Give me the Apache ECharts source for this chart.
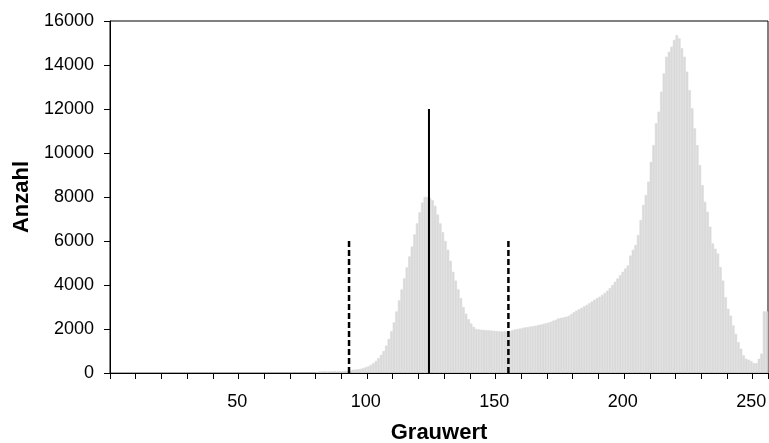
<!DOCTYPE html>
<html>
<head>
<meta charset="utf-8">
<script src="https://cdn.jsdelivr.net/npm/echarts@6/dist/echarts.min.js"></script>
<style>
	html, body { margin: 0; padding: 0; background: #fff; }
	#GrauChart { width: 769px; height: 443px; }
</style>
</head>
<body>
<div id="GrauChart"></div>
<script>
	/*Grauwerte 1..256 (Kategorien)*/
	let grauwerte = Array.from({ length: 256 }, (v, i) => i + 1);
	/*Anzahl je Grauwert*/
	let anzahl = [
		0, 0, 0, 0, 0, 0, 0, 0, 0, 0,
		0, 0, 0, 0, 0, 0, 0, 0, 0, 0,
		0, 0, 0, 0, 0, 0, 0, 0, 0, 0,
		0, 0, 0, 0, 0, 0, 0, 0, 0, 0,
		0, 0, 0, 0, 0, 0, 0, 0, 0, 0,
		0, 0, 0, 0, 0, 0, 0, 0, 0, 0,
		0, 0, 0, 0, 0, 0, 0, 0, 0, 0,
		0, 0, 0, 0, 0, 0, 0, 0, 0, 0,
		40, 70, 70, 80, 70, 80, 80, 90, 80, 90,
		90, 100, 100, 110, 150, 160, 170, 190, 220, 260,
		300, 370, 450, 550, 680, 830, 1000, 1250, 1550, 1900,
		2300, 2800, 3300, 3800, 4300, 4800, 5300, 5750, 6300, 6800,
		7300, 7750, 8000, 8000, 7950, 7850, 7600, 7200, 6800, 6400,
		6000, 5600, 5100, 4600, 4200, 3800, 3400, 3000, 2700, 2450,
		2250, 2100, 2000, 1980, 1970, 1960, 1950, 1940, 1930, 1920,
		1910, 1900, 1890, 1890, 1900, 1900, 1940, 1980, 2000, 2020,
		2050, 2070, 2090, 2110, 2130, 2150, 2180, 2200, 2230, 2260,
		2290, 2330, 2380, 2420, 2480, 2510, 2530, 2560, 2600, 2680,
		2760, 2840, 2900, 2960, 3030, 3100, 3170, 3250, 3330, 3400,
		3470, 3550, 3640, 3740, 3860, 4000, 4150, 4300, 4450, 4600,
		4750, 4890, 5340, 5600, 5820, 6270, 6950, 7640, 8090, 8700,
		9600, 10360, 11350, 11880, 12790, 13620, 14380, 14600, 14830, 15140,
		15360, 15210, 14760, 14380, 13700, 12860, 12030, 11120, 10360, 9450,
		8540, 7780, 7330, 6650, 5890, 5650, 5430, 4820, 4200, 3450,
		2920, 2610, 2160, 1780, 1400, 1100, 800, 650, 600, 540,
		450, 450, 650, 880, 2800, 2800
	];
	/*Mittelwert und Grenzen (Grauwert) mit Linienhoehe*/
	let mittelwert = 124.6;
	let mittelHoehe = 12000;
	let grenzen = [93.5, 155.5];
	let grenzHoehe = 6000;
	/*Y-Achse*/
	let yMax = 16000;
	let yStep = 2000;

	let schrift = "'Liberation Sans', Arial, sans-serif";

	let series = [{
		name: 'Anzahl',
		type: 'bar',
		data: anzahl,
		barCategoryGap: '0%',
		barGap: '0%',
		itemStyle: {
			color: '#dadada',
			borderColor: '#dadada',
			borderWidth: 0.6
		},
		z: 2
	}, {
		type: 'line',
		xAxisIndex: 1,
		data: [[mittelwert, 0], [mittelwert, mittelHoehe]],
		symbol: 'none',
		lineStyle: { color: '#000', width: 2 },
		z: 5
	}];
	grenzen.forEach(g => {
		series.push({
			type: 'line',
			xAxisIndex: 1,
			data: [[g, 0], [g, grenzHoehe]],
			symbol: 'none',
			lineStyle: { color: '#000', width: 2.5, type: [6, 3] },
			z: 5
		});
	});

	let option = {
		animation: false,
		grid: {
			left: 110,
			right: 1,
			top: 21,
			bottom: 70,
			show: true,
			borderColor: '#000',
			borderWidth: 1,
			containLabel: false,
			outerBoundsMode: 'none'
		},
		xAxis: [{
			type: 'category',
			data: grauwerte,
			boundaryGap: true,
			z: 4,
			name: 'Grauwert',
			nameLocation: 'middle',
			nameGap: 49,
			nameTextStyle: { color: '#000', fontSize: 22, fontWeight: 'bold', fontFamily: schrift },
			axisLine: { lineStyle: { color: '#000', width: 1 } },
			axisTick: {
				show: true,
				length: 6,
				interval: 9,
				lineStyle: { color: '#000' }
			},
			axisLabel: {
				interval: function (index, value) { return value % 50 === 0; },
				margin: 20,
				color: '#000',
				fontSize: 18,
				fontFamily: schrift
			},
			splitLine: { show: false }
		}, {
			type: 'value',
			min: 0.5,
			max: 256.5,
			show: false
		}],
		yAxis: {
			type: 'value',
			min: 0,
			max: yMax,
			interval: yStep,
			z: 4,
			name: 'Anzahl',
			nameLocation: 'middle',
			nameGap: 70,
			nameTextStyle: { color: '#000', fontSize: 22, fontWeight: 'bold', fontFamily: schrift },
			axisLine: { show: true, lineStyle: { color: '#000', width: 1 } },
			axisTick: { show: true, length: 6, lineStyle: { color: '#000' } },
			axisLabel: {
				margin: 16,
				color: '#000',
				fontSize: 18,
				fontFamily: schrift,
				formatter: function (v) { return String(v); }
			},
			splitLine: { show: false }
		},
		series: series
	};

	let myChart = echarts.init(document.getElementById('GrauChart'));
	myChart.setOption(option);
</script>
</body>
</html>
